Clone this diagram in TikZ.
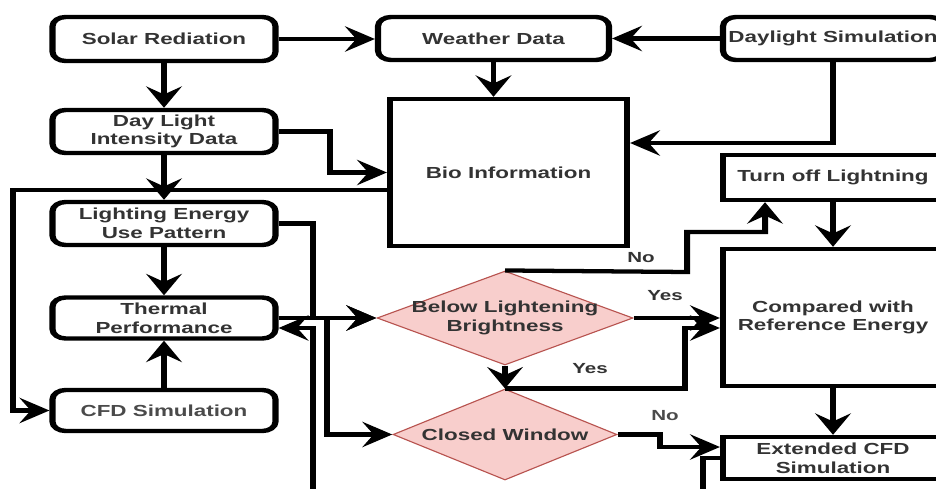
\documentclass[tikz,border=0pt]{standalone}
\usepackage{fontspec}
\setmainfont{Liberation Sans}
\usetikzlibrary{arrows.meta,shapes.geometric}
\definecolor{inkgray}{HTML}{333333}
\definecolor{softgray}{HTML}{4A4A4A}
\definecolor{dfill}{HTML}{F8CECC}
\definecolor{dline}{HTML}{B85450}
% horizontal unit: the drawing is set narrow and widened by the canvas scale
\newcommand\hpx{0.535714pt}

\begin{document}
\begin{tikzpicture}[
  every node/.style={font=\fontsize{12pt}{14pt}\selectfont\bfseries, text=inkgray, align=center},
  bw/.style={minimum width=#1*\hpx},
  bh/.style={minimum height=#1*0.75pt},
  rbox/.style={draw=black, line width=3.3pt, rounded corners=7pt, fill=white, inner sep=0pt},
  sbox/.style={draw=black, line width=3.3pt, fill=white, inner sep=0pt},
  decision/.style={diamond, draw=dline, fill=dfill, line width=0.8pt, inner sep=0pt},
  conn/.style={draw=black, line width=3.2pt, -{Stealth[length=16pt,width=19pt,inset=6pt]}},
  tag/.style={font=\fontsize{11pt}{13pt}\selectfont\bfseries}
]
\useasboundingbox (0,0) rectangle (702pt,-366.75pt);
\clip (0,0) rectangle (702pt,-366.75pt);
\begin{scope}[transform canvas={xscale=1.4}, x=\hpx, y=-0.75pt]

% left column
\node[rbox, bw=223, bh=44] (sol) at (164,39) {Solar Rediation};
\node[rbox, bw=223, bh=43] (dli) at (164,131.5) {Day Light\\Intensity Data};
\node[rbox, bw=223, bh=43] (lep) at (164,223.5) {Lighting Energy\\Use Pattern};
\node[rbox, bw=223, bh=41] (thp) at (164,318) {Thermal\\Performance};
\node[rbox, bw=223, bh=41, text=softgray] (cfd) at (164,410.5) {CFD Simulation};

% middle column
\node[rbox, bw=231, bh=43] (wea) at (493.5,38.5) {Weather Data};
\node[sbox, bw=237, bh=147] (bio) at (508.5,172.5) {Bio Information};
\node[decision, bw=256, bh=94, label={[name=blbt]center:Below Lightening\\Brightness}] (blb) at (505,318) {};
\node[decision, bw=224, bh=91, label={[name=clwt]center:Closed Window}] (clw) at (505,434.5) {};

% right column
\node[rbox, bw=220, bh=43] (dls) at (833,38.5) {Daylight Simulation};
\node[sbox, bw=220, bh=45] (tol) at (833,177.5) {Turn off Lightning};
\node[sbox, bw=220, bh=137] (cmp) at (833,317.5) {Compared with\\Reference Energy};
\node[sbox, bw=220, bh=42] (ext) at (833,458) {Extended CFD\\Simulation};

% connectors
\draw[conn] (sol.east) -- (sol.east -| wea.west);
\draw[conn] (sol.south) -- (dli.north);
\draw[conn] (dls.west) -- (wea.east);
\draw[conn] (wea.south) -- (wea.south |- bio.north);
\draw[conn] (dls.south) -- (833,143) -- (bio.east |- 0,143);
\draw[conn] (dli.east) -| (330,172.5) -- (bio.west);
\draw[conn] (dli.south) -- (lep.north);
\draw[conn] (bio.west |- 0,190) -- (13,190) |- (cfd.west);
\draw[conn] (lep.south) -- (thp.north);
\draw[conn] (cfd.north) -- (thp.south);
\draw[conn] (lep.east) -| (313,318) -- (blb.west);
\draw[conn] (thp.east) -- (blb.west);
\draw[conn] (thp.east) -- (327,318) |- (clw.west);
\draw[conn] (ext.west |- 0,458) -- (703,458) -- (703,520) -- (313,520) -- (313,328) -- (thp.east |- 0,328);
\draw[conn] (blb.north) -- (687,272) |- (765,232) -- (tol.south -| 765,0);
\draw[conn] (tol.south) -- (cmp.north);
\draw[conn] (blb.east) -- (blb.east -| cmp.west);
\draw[conn] (blb.south) -- (clw.north);
\draw[conn] (clw.north) -| (685,328) -- (cmp.west |- 0,328);
\draw[conn] (clw.east) -- (660,434.5) |- (ext.west |- 0,447);
\draw[conn] (cmp.south) -- (ext.north);

% branch labels
\node[tag] (no1) at (641,258) {No};
\node[tag] (yes1) at (665,296) {Yes};
\node[tag] (yes2) at (590,369) {Yes};
\node[tag, text=softgray] (no2) at (665,416) {No};

\end{scope}
\end{tikzpicture}
\end{document}
